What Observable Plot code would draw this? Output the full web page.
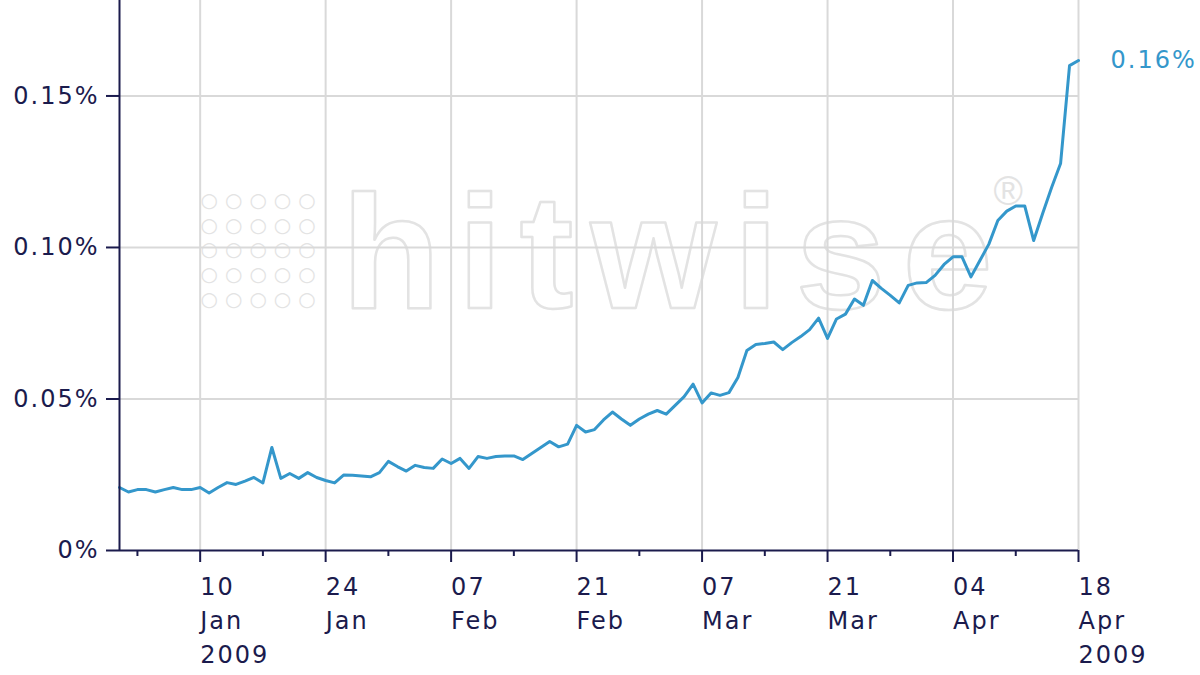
<!DOCTYPE html>
<html><head><meta charset="utf-8">
<script src="https://cdn.jsdelivr.net/npm/d3@7"></script>
<script src="https://cdn.jsdelivr.net/npm/@observablehq/plot@0.6"></script>
<style>
html,body{margin:0;padding:0;background:#fff;}
#chart svg{display:block;}
#chart text{letter-spacing:2px;}
</style></head><body><div id="chart"></div>
<script>
// Daily share of visits (%), starting 1 Jan 2009, one value per day to 18 Apr 2009
const startDate = "2009-01-01";
const endDate = "2009-04-18";
const shares = [
  0.0208,0.0193,0.0201,0.0201,0.0193,0.0201,0.0208,0.0201,0.0201,0.0208,
  0.0190,0.0208,0.0224,0.0218,0.0229,0.0241,0.0223,0.0340,0.0238,0.0254,
  0.0238,0.0257,0.0241,0.0231,0.0223,0.0249,0.0248,0.0246,0.0243,0.0257,
  0.0294,0.0277,0.0262,0.0281,0.0274,0.0271,0.0302,0.0287,0.0304,0.0271,
  0.0310,0.0304,0.0310,0.0312,0.0312,0.0300,0.0320,0.0340,0.0360,0.0342,
  0.0351,0.0413,0.0391,0.0399,0.0431,0.0457,0.0434,0.0413,0.0434,0.0450,
  0.0462,0.0450,0.0479,0.0508,0.0549,0.0487,0.0520,0.0512,0.0521,0.0571,
  0.0660,0.0680,0.0683,0.0688,0.0663,0.0686,0.0706,0.0729,0.0767,0.0700,
  0.0764,0.0780,0.0830,0.0809,0.0891,0.0865,0.0842,0.0817,0.0875,0.0883,
  0.0884,0.0908,0.0944,0.0969,0.0969,0.0903,0.0957,0.1011,0.1089,0.1120,
  0.1137,0.1137,0.1023,0.1112,0.1198,0.1277,0.1600,0.1617
];
const majorTicks = ["2009-01-10","2009-01-24","2009-02-07","2009-02-21","2009-03-07","2009-03-21","2009-04-04","2009-04-18"];
const majorLabels = ["10\nJan\n2009","24\nJan","07\nFeb","21\nFeb","07\nMar","21\nMar","04\nApr","18\nApr\n2009"];
const minorTicks = ["2009-01-03","2009-01-17","2009-01-31","2009-02-14","2009-02-28","2009-03-14","2009-03-28","2009-04-11"];
const yTicks = [0, 0.05, 0.10, 0.15];
const yLabels = ["0%", "0.05%", "0.10%", "0.15%"];
const watermark = ["hitwise"];
const watermarkMark = ["®"];
const watermarkDots = ["○○○○○\n○○○○○\n○○○○○\n○○○○○\n○○○○○"];

const navy = "#1b1b4d";
const blue = "#3497cb";
const grid = "#d9d9d9";
const wm = "#e3e3e3";

const t0 = new Date(startDate);
const data = shares.map((v, i) => ({date: d3.utcDay.offset(t0, i), v}));
const majorDates = majorTicks.map(d => new Date(d));
const minorDates = minorTicks.map(d => new Date(d));
const xLabelMap = new Map(majorDates.map((d, i) => [+d, majorLabels[i]]));
const yLabelMap = new Map(yTicks.map((d, i) => [d, yLabels[i]]));
const last = data[data.length - 1];

const chart = Plot.plot({
  width: 1200, height: 675,
  marginLeft: 119, marginRight: 122, marginTop: 0, marginBottom: 125,
  style: {fontFamily: "'DejaVu Sans', Verdana, sans-serif", fontSize: "24px", color: navy, background: "#fff", overflow: "visible"},
  x: {type: "utc", domain: [t0, new Date(endDate)]},
  y: {domain: [0, 0.1815]},
  marks: [
    Plot.text(watermark, {frameAnchor: "top-left", text: d => d, dx: 222, dy: 192, textAnchor: "start", lineAnchor: "top",
      fontSize: 162, fontWeight: "bold", fontFamily: "'Liberation Sans', Arial, sans-serif", fill: "none", stroke: wm, strokeWidth: 2.5}),
    Plot.text(watermarkMark, {frameAnchor: "top-left", text: d => d, dx: 874, dy: 192, textAnchor: "start", lineAnchor: "middle",
      fontSize: 40, fontFamily: "'Liberation Sans', Arial, sans-serif", fill: wm}),
    Plot.text(watermarkDots, {frameAnchor: "top-left", text: d => d, dx: 81, dy: 248, textAnchor: "start", lineAnchor: "middle",
      fontSize: 20, lineHeight: 1.24, fontFamily: "'DejaVu Sans', sans-serif", fill: wm}),
    Plot.gridX(majorDates, {stroke: grid, strokeOpacity: 1, strokeWidth: 2}),
    Plot.gridY(yTicks.slice(1), {stroke: grid, strokeOpacity: 1, strokeWidth: 2}),
    Plot.line(data, {x: "date", y: "v", stroke: blue, strokeWidth: 3, curve: "linear"}),
    Plot.axisY(yTicks, {tickFormat: d => yLabelMap.get(d), tickSize: 13, tickPadding: 7, strokeWidth: 2, label: null}),
    Plot.axisX(majorDates, {tickFormat: d => xLabelMap.get(+d), tickSize: 12, tickPadding: 9, textAnchor: "start", lineHeight: 1.4, strokeWidth: 2, label: null}),
    Plot.axisX(minorDates, {tickFormat: () => "", tickSize: 6, strokeWidth: 2, label: null}),
    Plot.ruleY([0], {stroke: navy, strokeWidth: 2}),
    Plot.ruleX([t0], {stroke: navy, strokeWidth: 2}),
    Plot.text([last], {x: "date", y: "v", text: d => d3.format(".2f")(d.v) + "%", dx: 32, textAnchor: "start", fill: blue})
  ]
});
const svg = d3.select(chart);
svg.selectAll("text").filter(function(){ return this.textContent === watermark[0]; })
  .style("letter-spacing", "0px")
  .attr("dx", watermark[0].split("").map((c, i) => i === 0 ? 0 : 17).join(" "));
svg.selectAll("text").filter(function(){ return this.textContent === watermarkMark[0]; }).style("letter-spacing", "0px");
svg.selectAll("text, tspan").filter(function(){ return this.textContent.indexOf("○") >= 0; }).style("letter-spacing", "7px");
document.getElementById("chart").append(chart);
</script></body></html>
